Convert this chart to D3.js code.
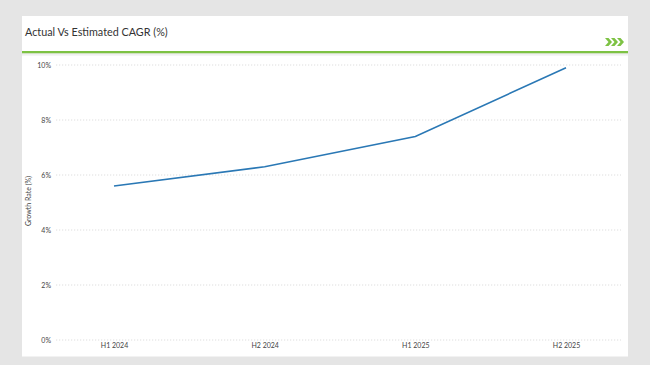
<!DOCTYPE html>
<html>
<head>
<meta charset="utf-8">
<script src="https://cdn.jsdelivr.net/npm/d3@7"></script>
<style>
  html, body { margin: 0; padding: 0; background: #e5e5e5; }
  svg { display: block; }
  text { font-family: Lato, "Open Sans", "Liberation Sans", sans-serif; }
</style>
</head>
<body>
<script>
const title = "Actual Vs Estimated CAGR (%)";
const yAxisTitle = "Growth Rate (%)";
const categories = ["H1 2024", "H2 2024", "H1 2025", "H2 2025"];
const values = [5.6, 6.3, 7.4, 9.9];
const yTicks = [0, 2, 4, 6, 8, 10];

const W = 650, H = 365;
const svg = d3.select("body").append("svg").attr("width", W).attr("height", H);

svg.append("rect").attr("width", W).attr("height", H).attr("fill", "#e5e5e5");
// header panel
svg.append("rect").attr("x", 22).attr("y", 16).attr("width", 606).attr("height", 36).attr("fill", "#ffffff");
svg.append("rect").attr("x", 22).attr("y", 51).attr("width", 606).attr("height", 2.5).attr("fill", "#7dc243");
svg.append("rect").attr("x", 22).attr("y", 53.5).attr("width", 606).attr("height", 2).attr("fill", "#f0f0f0");
// plot panel
svg.append("rect").attr("x", 22).attr("y", 55.5).attr("width", 606).attr("height", 301).attr("fill", "#ffffff");

svg.append("text").attr("x", 25).attr("y", 36).attr("font-size", 10.8).attr("fill", "#333")
  .text(title);

// chevrons
const chev = svg.append("g").attr("fill", "#7dc243");
[0, 1, 2].forEach(i => {
  const x0 = 605 + i * 6;
  chev.append("path").attr("d", `M${x0},38 L${x0+3.5},38 L${x0+7},42 L${x0+3.5},46 L${x0},46 L${x0+3.5},42 Z`);
});

const y = d3.scaleLinear().domain([0, 10]).range([340, 65]);
const x = d3.scalePoint().domain(categories).range([114, 566]);

// gridlines
svg.append("g").selectAll("line").data(yTicks).join("line")
  .attr("x1", 56).attr("x2", 621)
  .attr("y1", d => y(d)).attr("y2", d => y(d))
  .attr("stroke", "#d6d6d6").attr("stroke-width", 0.8).attr("stroke-dasharray", "1.2,1.8");

// y axis
const yAxis = d3.axisLeft(y).tickValues(yTicks).tickFormat(d => d + "%").tickSize(0).tickPadding(0);
const gy = svg.append("g").attr("transform", "translate(51,0)").call(yAxis);
gy.select(".domain").remove();
gy.selectAll("text").attr("font-size", 7).attr("fill", "#444").attr("dy", "0.32em");

// x axis
const xAxis = d3.axisBottom(x).tickSize(0).tickPadding(0);
const gx = svg.append("g").attr("transform", "translate(0,343)").call(xAxis);
gx.select(".domain").remove();
gx.selectAll("text").attr("font-size", 7).attr("fill", "#444").attr("dy", "0.71em");

// y title
svg.append("text").attr("transform", "translate(31,201) rotate(-90)")
  .attr("text-anchor", "middle").attr("font-size", 7).attr("fill", "#444").text(yAxisTitle);

// line
const line = d3.line().x((d, i) => x(categories[i])).y(d => y(d));
svg.append("path").datum(values).attr("d", line)
  .attr("fill", "none").attr("stroke", "#2a78b5").attr("stroke-width", 1.6);
</script>
</body>
</html>
